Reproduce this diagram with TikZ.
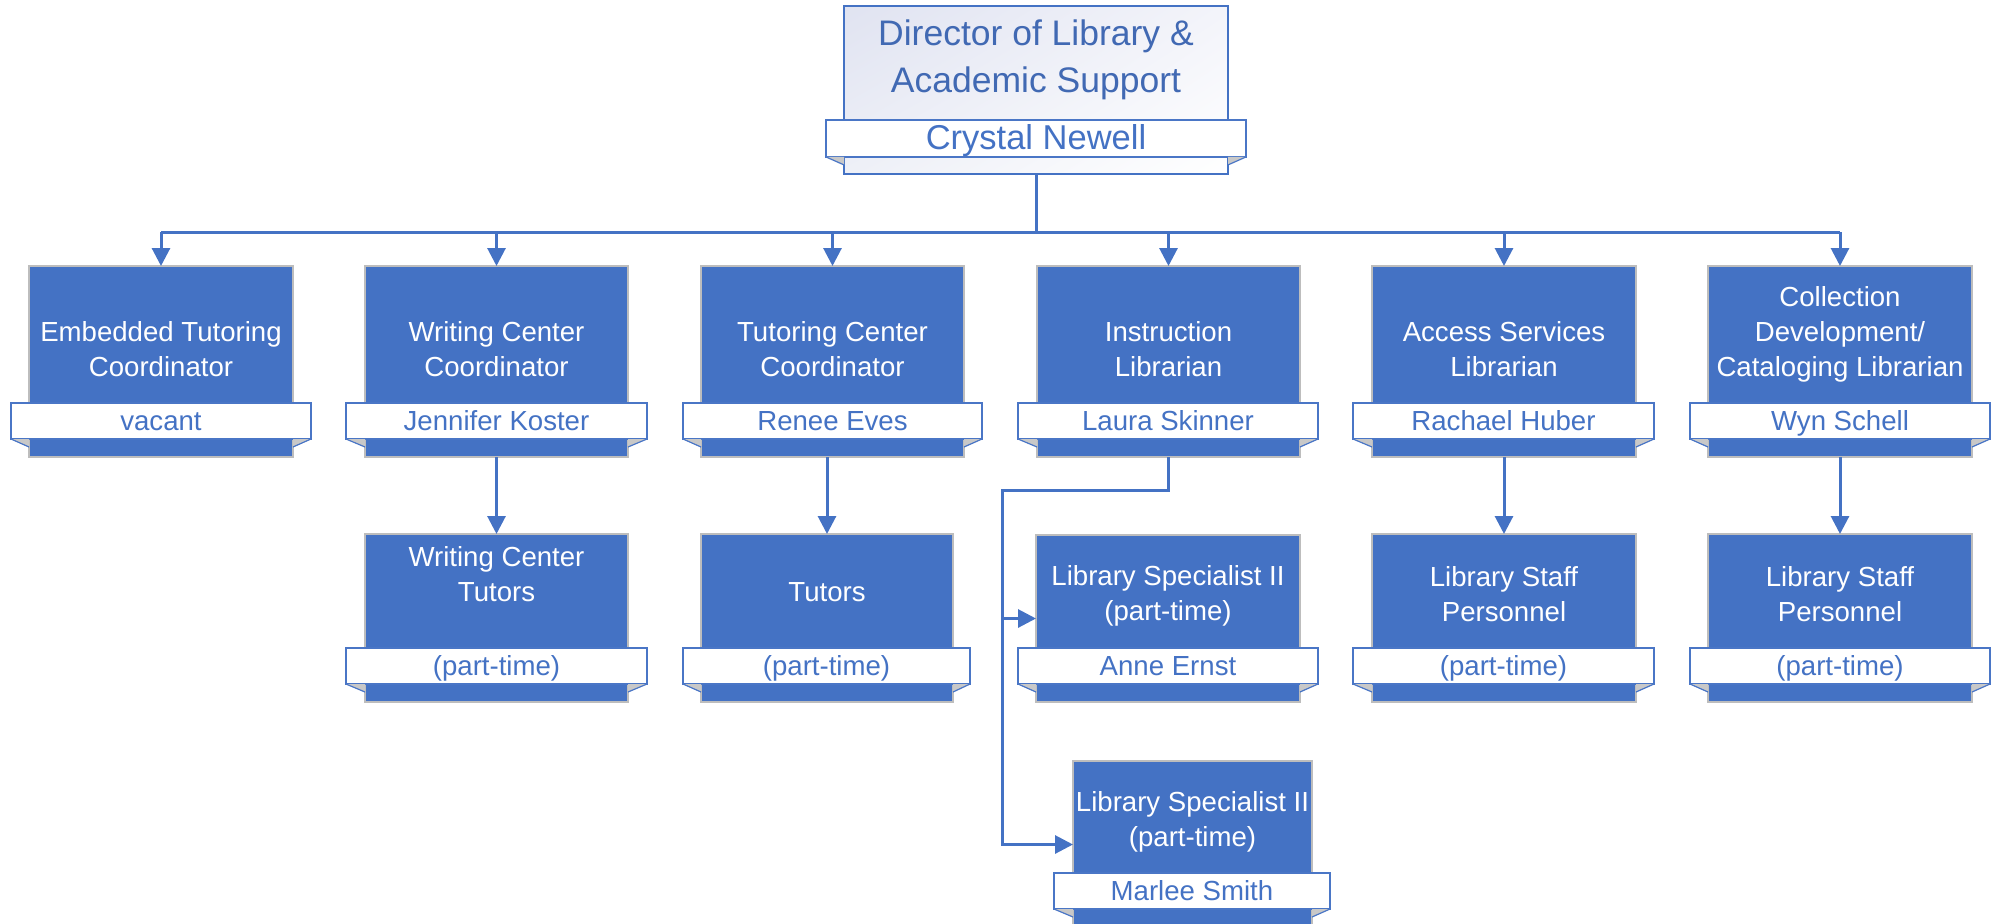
\documentclass[tikz,border=0pt]{standalone}
\usepackage{fontspec}
\setmainfont{Liberation Sans}
\usetikzlibrary{arrows.meta,calc,shadings}
\definecolor{boxblue}{HTML}{4472C4}
\definecolor{boxedge}{HTML}{BDBDBD}
\definecolor{bandline}{HTML}{4A76C6}
\definecolor{tailgray}{HTML}{C8C8C8}
\definecolor{dirtext}{HTML}{4169B3}
\definecolor{dirUL}{HTML}{E0E3F1}
\definecolor{dirUR}{HTML}{F3F4FA}
\definecolor{dirLL}{HTML}{EEF0F7}
\newcommand\st{\rule[-0.2em]{0pt}{0.916em}}
\newcommand\bst{\rule[-0.2em]{0pt}{\dimexpr0.916em+5pt\relax}}
\newcommand\tails[2]{%
 \fill[tailgray] (#1.south west) -- (#1.south west -| #2.west) -- ([yshift=-8pt]#1.south west -| #2.west) -- cycle;
 \draw[bandline, line width=1.2pt] (#1.south west) -- ([yshift=-8pt]#1.south west -| #2.west);
 \fill[tailgray] (#1.south east) -- (#1.south east -| #2.east) -- ([yshift=-8pt]#1.south east -| #2.east) -- cycle;
 \draw[bandline, line width=1.2pt] (#1.south east) -- ([yshift=-8pt]#1.south east -| #2.east);}
\tikzset{
 orgbox/.style={draw=boxedge, line width=1.2pt, fill=boxblue, anchor=north west, inner sep=0pt, outer sep=0pt},
 ttl/.style={text=white, align=center, font=\fontsize{27.6}{35}\selectfont, inner sep=0pt, yshift=-2.5pt},
 band/.style={draw=bandline, line width=1.5pt, fill=white, text=boxblue, font=\fontsize{27.6}{35}\selectfont, inner sep=0pt, outer sep=0pt, minimum height=36pt},
 conn/.style={draw=boxblue, line width=3pt},
 arr/.style={draw=boxblue, line width=3pt, -{Triangle[width=18pt,length=18pt]}},
}
\begin{document}
\begin{tikzpicture}[x=1pt,y=-1pt]
\useasboundingbox (0,0) rectangle (1998,924);
\clip (0,0) rectangle (1998,924);
% director
\node[draw=boxblue, line width=2pt, anchor=north west, inner sep=0pt, outer sep=0pt,
  minimum width=384pt, minimum height=168pt,
  upper left=dirUL, upper right=dirUR, lower left=dirLL, lower right=white] (dir) at (844,6) {};
\node[text=dirtext, align=center, font=\fontsize{35.5}{47}\selectfont, inner sep=0pt] (dirt) at (1036,60) {\st Director of Library \&\\\st Academic Support};
% row 1 boxes
\node[orgbox, minimum width=264pt, minimum height=191pt] (c1) at (29,266) {};
\node[orgbox, minimum width=263pt, minimum height=191pt] (c2) at (365,266) {};
\node[orgbox, minimum width=263pt, minimum height=191pt] (c3) at (701,266) {};
\node[orgbox, minimum width=263pt, minimum height=191pt] (c4) at (1037,266) {};
\node[orgbox, minimum width=264pt, minimum height=191pt] (c5) at (1372,266) {};
\node[orgbox, minimum width=264pt, minimum height=191pt] (c6) at (1708,266) {};
% row 2 boxes
\node[orgbox, minimum width=263pt, minimum height=168pt] (d2) at (365,534) {};
\node[orgbox, minimum width=252pt, minimum height=168pt] (d3) at (701,534) {};
\node[orgbox, minimum width=264pt, minimum height=167pt] (d4) at (1036,535) {};
\node[orgbox, minimum width=264pt, minimum height=168pt] (d5) at (1372,534) {};
\node[orgbox, minimum width=264pt, minimum height=168pt] (d6) at (1708,534) {};
% row 3 box
\node[orgbox, minimum width=239pt, minimum height=167pt] (m) at (1073,761) {};
% banners
\node[band, minimum width=420pt, minimum height=35pt, font=\fontsize{34.5}{40}\selectfont] (dirb) at (1036,138.5) {\bst Crystal Newell};
\node[band, minimum width=300pt] (b1) at (161,421) {\bst vacant};
\node[band, minimum width=301pt] (b2) at (496.5,421) {\bst Jennifer Koster};
\node[band, minimum width=299pt] (b3) at (832.5,421) {\bst Renee Eves};
\node[band, minimum width=300pt] (b4) at (1168,421) {\bst Laura Skinner};
\node[band, minimum width=301pt] (b5) at (1503.5,421) {\bst Rachael Huber};
\node[band, minimum width=300pt] (b6) at (1840,421) {\bst Wyn Schell};
\node[band, minimum width=301pt] (e2) at (496.5,666) {\bst (part-time)};
\node[band, minimum width=287pt] (e3) at (826.5,666) {\bst (part-time)};
\node[band, minimum width=300pt] (e4) at (1168,666) {\bst Anne Ernst};
\node[band, minimum width=301pt] (e5) at (1503.5,666) {\bst (part-time)};
\node[band, minimum width=300pt] (e6) at (1840,666) {\bst (part-time)};
\node[band, minimum width=276pt] (mb) at (1192,891) {\bst Marlee Smith};
% tails
\tails{dirb}{dir}
\tails{b1}{c1}\tails{b2}{c2}\tails{b3}{c3}\tails{b4}{c4}\tails{b5}{c5}\tails{b6}{c6}
\tails{e2}{d2}\tails{e3}{d3}\tails{e4}{d4}\tails{e5}{d5}\tails{e6}{d6}
\tails{mb}{m}
% titles
\node[ttl] (t1) at (161,349.5) {\st Embedded Tutoring\\\st Coordinator};
\node[ttl] (t2) at (496.5,349.5) {\st Writing Center\\\st Coordinator};
\node[ttl] (t3) at (832.5,349.5) {\st Tutoring Center\\\st Coordinator};
\node[ttl] (t4) at (1168.5,349.5) {\st Instruction\\\st Librarian};
\node[ttl] (t5) at (1504,349.5) {\st Access Services\\\st Librarian};
\node[ttl] (t6) at (1840,332) {\st Collection\\\st Development/\\\st Cataloging Librarian};
\node[ttl] (u2) at (496.5,574.5) {\st Writing Center\\\st Tutors};
\node[ttl] (u3) at (827,592) {\st Tutors};
\node[ttl] (u4) at (1168,593.5) {\st Library Specialist II\\\st (part-time)};
\node[ttl] (u5) at (1504,594.5) {\st Library Staff\\\st Personnel};
\node[ttl] (u6) at (1840,594.5) {\st Library Staff\\\st Personnel};
\node[ttl] (mt) at (1192.5,819.5) {\st Library Specialist II\\\st (part-time)};
% connectors
\coordinate (busL) at ($(c1.north)+(0,-34)$);
\coordinate (busR) at ($(c6.north)+(0,-34)$);
\draw[conn] (dir.south) -- (dir.south |- busL);
\draw[conn] (busL) -- (busR);
\foreach \c in {c1,c2,c3,c4,c5,c6}{\draw[arr] (\c.north |- busL) -- (\c.north);}
\draw[arr] (c2.south) -- (d2.north);
\draw[arr] (d3.north |- c3.south) -- (d3.north);
\draw[arr] (c5.south) -- (d5.north);
\draw[arr] (c6.south) -- (d6.north);
\coordinate (j1) at ($(c4.south)+(0,33)$);
\coordinate (j2) at (1002,490);
\draw[arr] (c4.south) -- (j1) -- (j2) -- (j2 |- m.west) -- (m.west);
\draw[arr] (j2 |- d4.west) -- (d4.west);
\end{tikzpicture}
\end{document}
